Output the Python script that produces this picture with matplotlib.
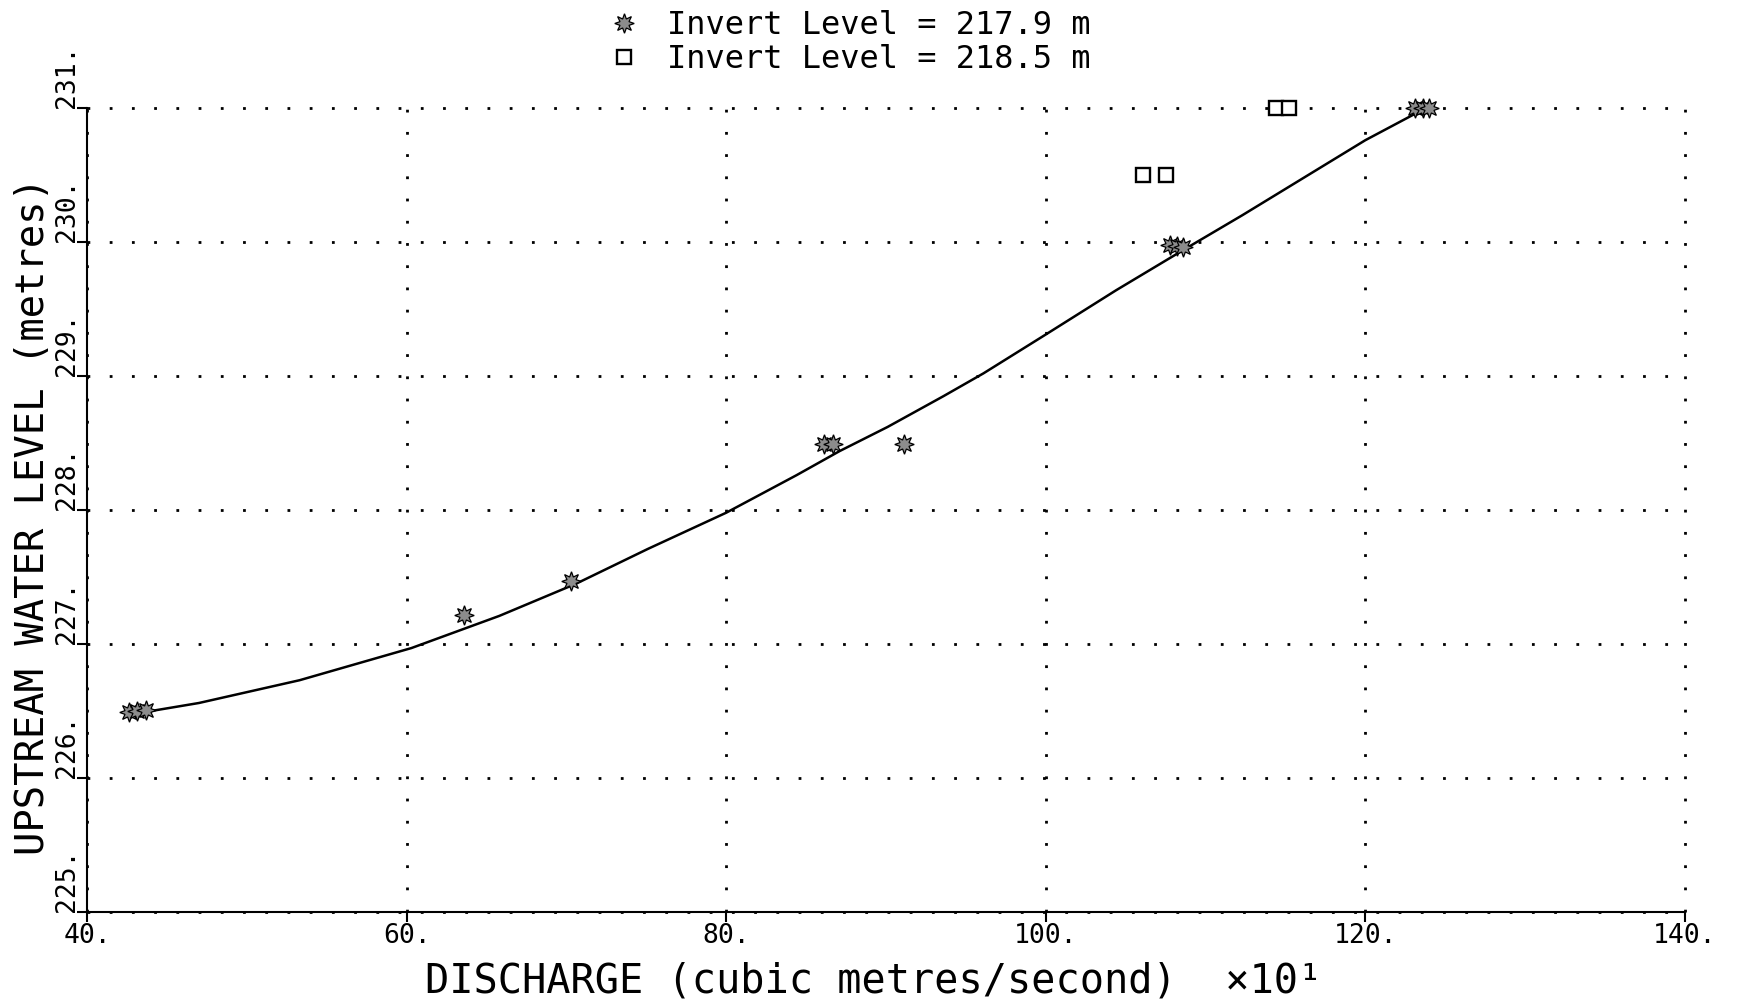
import matplotlib
matplotlib.use('Agg')
import matplotlib.pyplot as plt
from matplotlib.lines import Line2D

plt.rcParams['font.family'] = ['DejaVu Sans Mono', 'DejaVu Sans']

# fitted rating curve
curve_q = [44.0, 47.0, 53.3, 60.3, 65.8, 68.8, 70.6, 75.1, 80.0, 84.4,
           87.1, 90.1, 93.6, 96.1, 100.0, 104.4, 108.6, 112.3, 115.6,
           120.0, 123.0]
curve_h = [226.50, 226.56, 226.73, 226.97, 227.21, 227.36, 227.45, 227.71,
           227.98, 228.26, 228.44, 228.62, 228.85, 229.02, 229.31, 229.64,
           229.94, 230.20, 230.44, 230.76, 230.95]

# observations, invert level 217.9 m
q_low = [42.6, 43.1, 43.7, 63.6, 70.3, 86.1, 86.7, 91.1,
         107.8, 108.2, 108.6, 123.1, 123.6, 124.0]
h_low = [226.49, 226.50, 226.51, 227.22, 227.47, 228.49, 228.49, 228.49,
         229.98, 229.97, 229.96, 231.00, 231.00, 231.00]

# observations, invert level 218.5 m
q_high = [106.1, 107.5, 114.4, 115.25]
h_high = [230.50, 230.50, 231.00, 231.00]

xticks = [40, 60, 80, 100, 120, 140]
yticks = [225, 226, 227, 228, 229, 230, 231]

fig = plt.figure(figsize=(17.52, 10.05), dpi=100)
ax = fig.add_axes([0.0497, 0.0925, 0.912, 0.80])

ax.plot(curve_q, curve_h, color='black', lw=1.8, zorder=3)
star = dict(linestyle='none', marker=(8, 1, 0), ms=14, mfc='#8c8c8c',
            mec='black', mew=0.9)
box = dict(linestyle='none', marker='s', ms=10, mfc='white', mec='black',
           mew=1.7)
ax.plot(q_low, h_low, zorder=4, clip_on=False, **star)
ax.plot(q_high, h_high, zorder=4, clip_on=False, **box)

ax.set_xlim(40, 140)
ax.set_ylim(225, 231)
ax.set_xticks(xticks)
ax.set_xticklabels([f'{v}.' for v in xticks])
ax.set_yticks(yticks)
ax.set_yticklabels([f'{v}.' for v in yticks])

for s in ['top', 'right']:
    ax.spines[s].set_visible(False)
for s in ['left', 'bottom']:
    ax.spines[s].set_linewidth(1.5)

ax.grid(True, linestyle=(0, (1, 7)), color='black', lw=2)
for gl in ax.get_xgridlines() + ax.get_ygridlines():
    gl.set_clip_on(False)

ax.tick_params(axis='x', direction='out', length=7, width=1.5,
               labelsize=19, pad=1)
ax.tick_params(axis='y', direction='out', length=7, width=1.5,
               labelsize=19, pad=-2, labelrotation=90)
plt.setp(ax.get_yticklabels(), ha='left', va='bottom', rotation_mode='anchor')

ax.set_xlabel('DISCHARGE (cubic metres/second)  \u00d710\u00b9', fontsize=29)
ax.xaxis.set_label_coords(0.492, -0.062)
ax.set_ylabel('UPSTREAM WATER LEVEL (metres)', fontsize=28)
ax.yaxis.set_label_coords(-0.022, 0.4925)

handles = [Line2D([], [], **star), Line2D([], [], **box)]
labels = ['Invert Level = 217.9 m', 'Invert Level = 218.5 m']
fig.legend(handles, labels, loc='upper left', bbox_to_anchor=(0.345, 0.993),
           frameon=False, fontsize=23, handlelength=1.0, handletextpad=0.87,
           labelspacing=0.1, borderaxespad=0, borderpad=0.1)

fig.savefig('out.png', dpi=100, facecolor='white')
